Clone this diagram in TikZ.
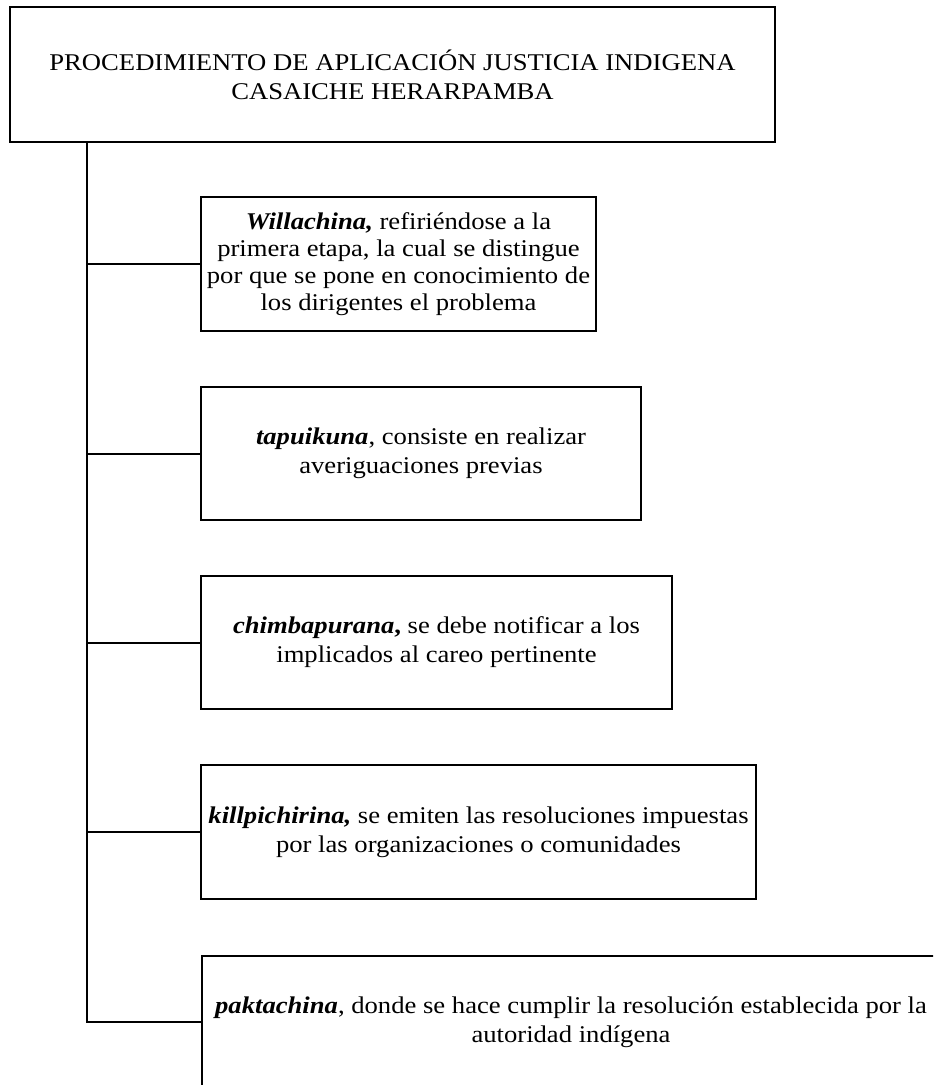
\documentclass[tikz,border=0pt]{standalone}
\usepackage{fontspec}
\setmainfont{Liberation Serif}[FakeStretch=1.11]
\usepackage{tikz}

\begin{document}
\begin{tikzpicture}[x=0.5pt, y=-0.5pt, line width=1pt,
  box/.style={rectangle, draw=black, line width=1pt, inner sep=0pt, align=center,
    font=\fontsize{12}{14.5}\selectfont}]

\useasboundingbox (0,0) rectangle (933,1085);
\clip (0,0) rectangle (933,1085);

\node (title) [box, minimum width=382.5pt, minimum height=67.5pt] at (392.5,74.5) {PROCEDIMIENTO DE APLICACIÓN JUSTICIA INDIGENA\\CASAICHE HERARPAMBA};
\node (st1) [box, minimum width=197.5pt, minimum height=67pt, font=\fontsize{12}{13.5}\selectfont] at (398.5,264) {\textbf{\textit{Willachina,}} refiriéndose a la\\primera etapa, la cual se distingue\\por que se pone en conocimiento de\\los dirigentes el problema};
\node (st2) [box, minimum width=220pt, minimum height=66.5pt] at (421,453.5) {\textbf{\textit{tapuikuna}}, consiste en realizar\\averiguaciones previas};
\node (st3) [box, minimum width=235.5pt, minimum height=66.5pt] at (436.5,642.5) {\textbf{\textit{chimbapurana}\textbf{,}} se debe notificar a los\\implicados al careo pertinente};
\node (st4) [box, minimum width=277.5pt, minimum height=67pt] at (478.5,832) {\textbf{\textit{killpichirina,}} se emiten las resoluciones impuestas\\por las organizaciones o comunidades};
\node (st5) [box, minimum width=369pt, minimum height=66.5pt] at (571,1022) {\textbf{\textit{paktachina}}, donde se hace cumplir la resolución establecida por la\\autoridad indígena};

% trunk
\coordinate (trunk) at (87,142);
\draw (trunk) |- (st5.west);
\draw (trunk |- st1.west) -- (st1.west);
\draw (trunk |- st2.west) -- (st2.west);
\draw (trunk |- st3.west) -- (st3.west);
\draw (trunk |- st4.west) -- (st4.west);

\end{tikzpicture}
\end{document}
